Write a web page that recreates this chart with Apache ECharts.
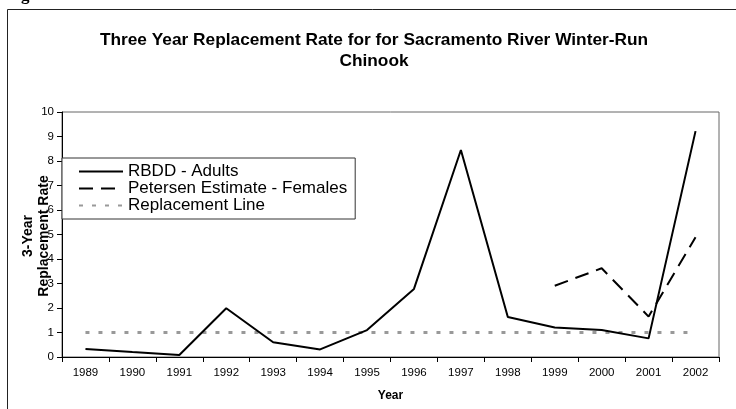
<!DOCTYPE html>
<html>
<head>
<meta charset="utf-8">
<script src="https://cdn.jsdelivr.net/npm/echarts@6/dist/echarts.min.js"></script>
<style>
  html, body { margin: 0; padding: 0; background: #fff; }
  #chart { width: 736px; height: 409px; }
</style>
</head>
<body>
<div id="chart"></div>
<script>
// data
const years = ['1989', '1990', '1991', '1992', '1993', '1994', '1995',
  '1996', '1997', '1998', '1999', '2000', '2001', '2002']
const rbddAdults = [0.33, 0.2, 0.08, 1.99, 0.6, 0.31, 1.1, 2.78, 8.45, 1.63, 1.2, 1.1, 0.76, 9.22]
const petersenFemales = [null, null, null, null, null, null, null, null, null, null, 2.91, 3.62, 1.65, 4.89]
const replacementLine = [1, 1, 1, 1, 1, 1, 1, 1, 1, 1, 1, 1, 1, 1]

const font = "'Liberation Sans', Arial, sans-serif"

const chart = echarts.init(document.getElementById('chart'))

const option = {
  animation: false,
  backgroundColor: '#fff',
  textStyle: { fontFamily: font },
  title: {
    text: 'Three Year Replacement Rate for for Sacramento River Winter-Run\nChinook',
    left: 374,
    textAlign: 'center',
    top: 30,
    padding: 0,
    textStyle: {
      fontFamily: font,
      fontSize: 17.3,
      fontWeight: 'bold',
      lineHeight: 21,
      color: '#000',
    },
  },
  // outer frame, the cut-off caption above it and the y axis title
  graphic: [
    {
      type: 'rect',
      shape: { x: 7.5, y: 9.5, width: 740, height: 420 },
      style: { fill: null, stroke: '#222', lineWidth: 1 },
      silent: true,
    },
    {
      type: 'text',
      x: 6,
      y: 4,
      style: {
        text: 'Figure',
        font: "bold 17px 'Liberation Serif', serif",
        fill: '#000',
        verticalAlign: 'bottom',
      },
      silent: true,
    },
    {
      type: 'text',
      x: 36,
      y: 236,
      rotation: Math.PI / 2,
      style: {
        text: '3-Year\nReplacement Rate',
        font: 'bold 14px ' + font,
        fill: '#000',
        align: 'center',
        verticalAlign: 'middle',
        lineHeight: 16,
      },
      silent: true,
    },
  ],
  legend: {
    orient: 'vertical',
    left: 62,
    top: 158,
    padding: [5, 8, 5, 16],
    itemGap: 0,
    itemWidth: 44,
    itemHeight: 16,
    borderColor: '#333',
    borderWidth: 1,
    backgroundColor: '#fff',
    itemStyle: { opacity: 0 },
    textStyle: { fontFamily: font, fontSize: 17, color: '#000' },
    data: ['RBDD - Adults', 'Petersen Estimate - Females', 'Replacement Line'],
  },
  grid: {
    left: 62,
    right: 17,
    top: 112,
    bottom: 52,
    show: true,
    borderColor: '#666',
    borderWidth: 1,
  },
  xAxis: {
    type: 'category',
    data: years,
    boundaryGap: true,
    name: 'Year',
    nameLocation: 'middle',
    nameGap: 33,
    nameTextStyle: { fontFamily: font, fontSize: 12, fontWeight: 'bold', color: '#000' },
    axisLine: { lineStyle: { color: '#000', width: 1 } },
    axisTick: { show: true, length: 5, lineStyle: { color: '#000' } },
    axisLabel: { margin: 10, fontSize: 11.5, color: '#000', interval: 0 },
    splitLine: { show: false },
  },
  yAxis: {
    type: 'value',
    min: 0,
    max: 10,
    interval: 1,
    axisLine: { show: true, lineStyle: { color: '#000', width: 1 } },
    axisTick: { show: true, length: 5, lineStyle: { color: '#000' } },
    axisLabel: { margin: 8, fontSize: 11.5, color: '#000' },
    splitLine: { show: false },
  },
  series: [
    {
      name: 'RBDD - Adults',
      type: 'line',
      data: rbddAdults,
      symbol: 'none',
      lineStyle: { color: '#000', width: 2 },
      itemStyle: { color: '#000' },
      z: 4,
    },
    {
      name: 'Petersen Estimate - Females',
      type: 'line',
      data: petersenFemales,
      symbol: 'none',
      connectNulls: false,
      lineStyle: { color: '#000', width: 2, type: [14, 8] },
      itemStyle: { color: '#000' },
      z: 3,
    },
    {
      name: 'Replacement Line',
      type: 'line',
      data: replacementLine,
      symbol: 'none',
      lineStyle: { color: '#999', width: 3, type: [4, 9] },
      itemStyle: { color: '#999' },
      z: 2,
    },
  ],
}

chart.setOption(option)
</script>
</body>
</html>
